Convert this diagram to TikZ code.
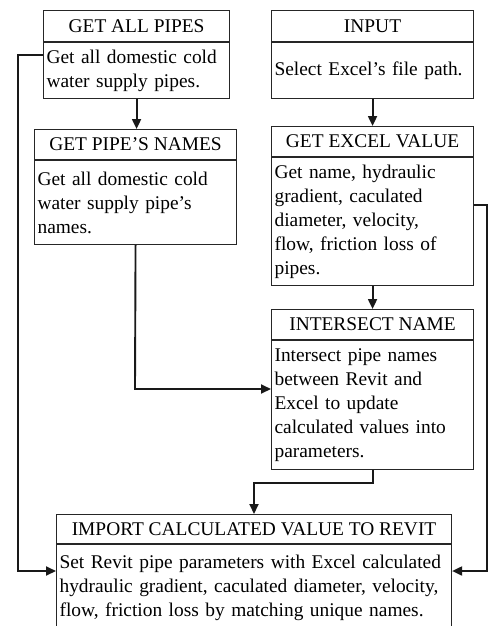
\documentclass[tikz,border=0pt]{standalone}
\usepackage{fontspec}
\setmainfont{Liberation Serif}
\usetikzlibrary{arrows.meta}
\hyphenpenalty=10000
\exhyphenpenalty=10000
\tikzset{
  hdr/.style={draw=black!85, line width=1.1pt, anchor=north west, inner sep=0pt, minimum height=31pt, align=center, font=\fontsize{19.4}{24}\selectfont},
  bodybox/.style={draw=black!85, line width=1.1pt, anchor=north west, inner xsep=3pt, inner ysep=0pt, align=left, font=\fontsize{19.4}{24}\selectfont},
  conn/.style={line width=1.9pt, draw=black!90},
  arr/.style={conn, -{Triangle[length=10pt,width=9pt]}}
}
\begin{document}
\begin{tikzpicture}[x=1pt,y=-1pt]
\useasboundingbox (0,0) rectangle (491,626);
% GET ALL PIPES
\node[hdr, minimum width=186pt] (h1) at (43,10) {GET ALL PIPES};
\node[bodybox, text width=180pt, minimum height=56pt] (b1) at (h1.south west) {Get all domestic cold\\water supply pipes.};
% INPUT
\node[hdr, minimum width=202pt] (h2) at (271,10) {INPUT};
\node[bodybox, text width=196pt, minimum height=56pt] (b2) at (h2.south west) {Select Excel’s file path.};
% GET PIPE'S NAMES
\node[hdr, minimum width=202pt, minimum height=30pt] (h3) at (34,129) {GET PIPE’S NAMES};
\node[bodybox, text width=196pt, minimum height=84pt] (b3) at (h3.south west) {Get all domestic cold\\water supply pipe’s\\names.};
% GET EXCEL VALUE
\node[hdr, minimum width=202pt, minimum height=30pt] (h4) at (271,126) {GET EXCEL VALUE};
\node[bodybox, text width=196pt, minimum height=128pt] (b4) at (h4.south west) {Get name, hydraulic\\gradient, caculated\\diameter, velocity,\\flow, friction loss of\\pipes.};
% INTERSECT NAME
\node[hdr, minimum width=202pt, minimum height=30pt] (h5) at (271,309) {INTERSECT NAME};
\node[bodybox, text width=196pt, minimum height=129pt] (b5) at (h5.south west) {Intersect pipe names\\between Revit and\\Excel to update\\calculated values into\\parameters.};
% IMPORT
\node[hdr, minimum width=395pt, minimum height=29pt] (h6) at (56,514) {IMPORT CALCULATED VALUE TO REVIT};
\node[bodybox, text width=389pt, minimum height=86pt] (b6) at (h6.south west) {Set Revit pipe parameters with Excel calculated\\hydraulic gradient, caculated diameter, velocity,\\flow, friction loss by matching unique names.};
% connectors
\coordinate (l1) at (18,55);
\coordinate (l2) at (18,571);
\coordinate (m1) at (135,389);
\coordinate (k1) at (254,483);
\coordinate (r1) at (487,205);
\coordinate (r2) at (487,571);
\draw[arr] (b1.south) -- (b1.south |- h3.north);
\draw[arr] (b2.south) -- (b2.south |- h4.north);
\draw[arr] (b4.south) -- (b4.south |- h5.north);
\draw[arr] (b1.west |- l1) -- (l1) -- (l2) -- (l2 -| b6.west);
\draw[arr] (b3.south) -- (m1) -- (m1 -| b5.west);
\draw[arr] (b5.south) |- (k1) -- (k1 |- h6.north);
\draw[arr] (b4.east |- r1) -- (r1) -- (r2) -- (r2 -| b6.east);
\end{tikzpicture}
\end{document}
